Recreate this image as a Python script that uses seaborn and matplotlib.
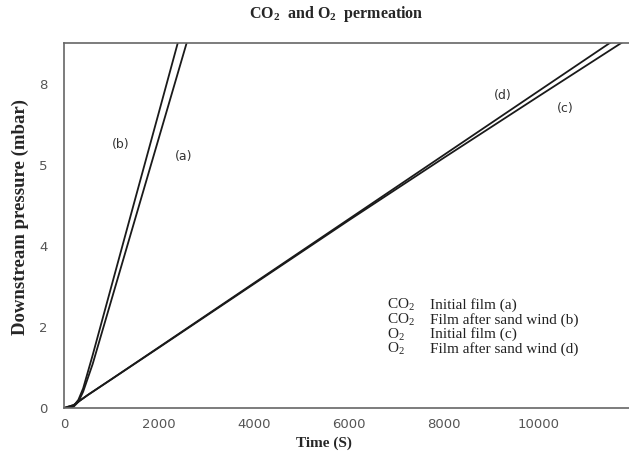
import pandas as pd
import matplotlib.pyplot as plt
import seaborn as sns

# curve (b): CO2, film after sand wind
t_b = [0, 100, 200, 300, 400, 600, 1000, 1500, 2000, 2500]
p_b = [0, 0.0, 0.05, 0.2, 0.48, 1.3, 3.02, 5.17, 7.31, 9.46]
# curve (a): CO2, initial film
t_a = [0, 100, 200, 300, 400, 600, 1000, 1500, 2000, 2700]
p_a = [0, 0.0, 0.03, 0.15, 0.4, 1.08, 2.68, 4.68, 6.68, 9.48]
# curve (d): O2, film after sand wind
t_d = [0, 200, 500, 1000, 2000, 4000, 6000, 8000, 10000, 12000]
p_d = [0, 0.07, 0.32, 0.71, 1.5, 3.08, 4.66, 6.24, 7.82, 9.4]
# curve (c): O2, initial film
t_c = [0, 200, 500, 1000, 2000, 4000, 6000, 8000, 10000, 12000]
p_c = [0, 0.07, 0.32, 0.71, 1.49, 3.06, 4.63, 6.17, 7.69, 9.2]

curve_names = ["a", "b", "c", "d"]
curve_labels = {"b": (1185, 6.49), "a": (2519, 6.2), "d": (9249, 7.7), "c": (10561, 7.38)}

yticks = [0, 2, 4, 6, 8]
ytick_labels = ["0", "2", "4", "5", "8"]
xticks = [0, 2000, 4000, 6000, 8000, 10000]

legend_gas = ["CO$_2$", "CO$_2$", "O$_2$", "O$_2$"]
legend_desc = ["Initial film (a)", "Film after sand wind (b)",
               "Initial film (c)", "Film after sand wind (d)"]

df = pd.concat([
    pd.DataFrame({"t": t_a, "p": p_a, "curve": "a"}),
    pd.DataFrame({"t": t_b, "p": p_b, "curve": "b"}),
    pd.DataFrame({"t": t_c, "p": p_c, "curve": "c"}),
    pd.DataFrame({"t": t_d, "p": p_d, "curve": "d"}),
])

sns.set_style("white")
plt.rcParams["mathtext.fontset"] = "custom"
plt.rcParams["mathtext.rm"] = "Liberation Serif"
plt.rcParams["mathtext.bf"] = "Liberation Serif:bold"
serif = ["Liberation Serif", "DejaVu Serif"]

fig = plt.figure(figsize=(6.29, 4.63), dpi=100)
ax = fig.add_axes([0.102, 0.119, 0.898, 0.788])

sns.lineplot(data=df, x="t", y="p", hue="curve", units="curve", estimator=None,
             palette={c: "#1a1a1a" for c in curve_names}, linewidth=1.3,
             legend=False, ax=ax)

ax.set_xlim(0, 11900)
ax.set_ylim(0, 9)
ax.set_xticks(xticks)
ax.set_xticklabels([str(x) for x in xticks], family="DejaVu Sans", fontsize=9.5, color="#555555")
ax.set_yticks(yticks)
ax.set_yticklabels(ytick_labels, family="DejaVu Sans", fontsize=9.5, color="#555555")
ax.tick_params(axis="both", direction="out", length=4, width=1, color="#555555")
ax.tick_params(axis="y", pad=8)

for side in ["left", "bottom", "top"]:
    ax.spines[side].set_color("#666666")
    ax.spines[side].set_linewidth(1.2)
ax.spines["right"].set_visible(False)

ax.set_xlabel("Time (S)", family=serif, fontweight="bold", fontsize=11)
ax.xaxis.set_label_coords(0.46, -0.078)
ax.set_ylabel("Downstream pressure (mbar)", family=serif, fontweight="bold", fontsize=13.5)
ax.yaxis.set_label_coords(-0.062, 0.523)
fig.text(336 / 629, 1 - 14 / 463, "CO$_\\mathbf{2}$  and O$_\\mathbf{2}$  permeation",
         family=serif, fontweight="bold", fontsize=11.5, ha="center", va="center")

for name, (tx, py) in curve_labels.items():
    ax.text(tx, py, "(" + name + ")", family="DejaVu Sans", fontsize=9,
            color="#333333", ha="center", va="center")

# legend block: two multi-line columns sharing the last baseline
ax.text(7700, 1.36, "\n".join(legend_desc), family=serif, fontsize=11,
        color="#222222", va="baseline", linespacing=1.05)
ax.text(6800, 1.36, "\n".join(legend_gas), family=serif, fontsize=11,
        color="#222222", va="baseline", linespacing=0.85)

fig.savefig("out.png", dpi=100)
